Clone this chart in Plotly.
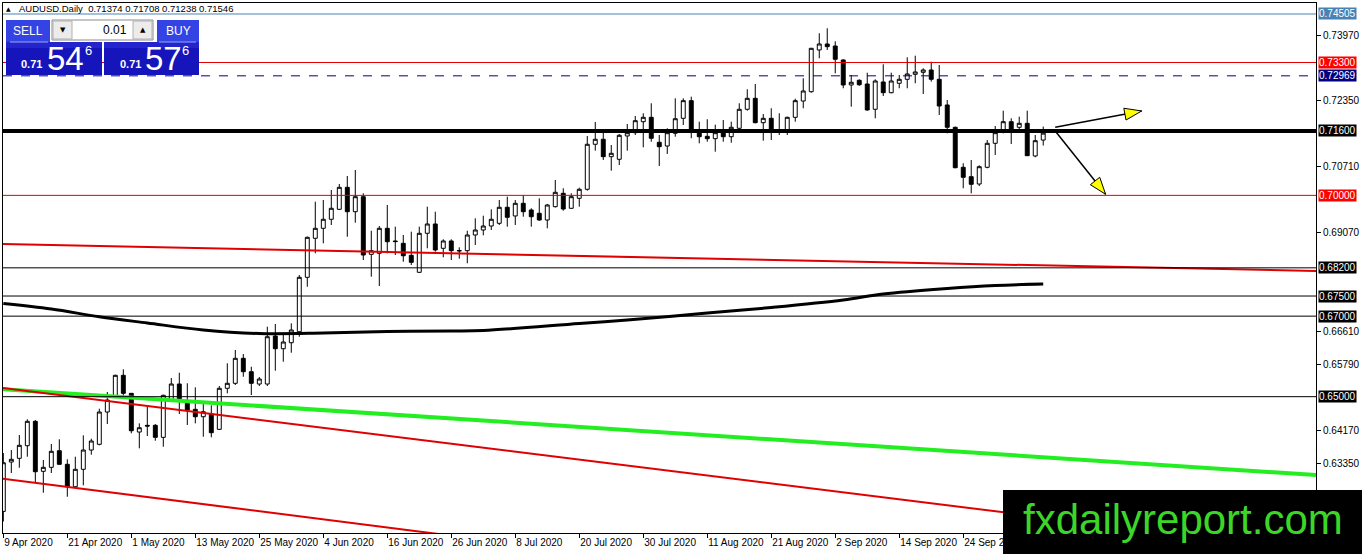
import plotly.graph_objects as go

FONT = 'Liberation Sans'
PAGE_W, PAGE_H = 1362, 554
# chart frame inside the page, in pixels
PLOT_L, PLOT_R, PLOT_T, PLOT_B = 3, 1316, 3, 533
X_RANGE = [-0.04, 164.1]
Y_RANGE = [0.61614, 0.74778]

SYMBOL = 'AUDUSD.Daily'

# daily bars, 9 Apr 2020 .. 8 Oct 2020
OPENS = [
    0.62150, 0.63377, 0.63469, 0.63782, 0.64388, 0.63146, 0.63245, 0.63658, 0.63320, 0.62763,
    0.63196, 0.63675, 0.63817, 0.64619, 0.64999, 0.65531, 0.65083, 0.64122, 0.64288, 0.64288,
    0.63990, 0.64917, 0.65314, 0.64900, 0.64686, 0.64502, 0.64569, 0.64189, 0.65208, 0.65332,
    0.65953, 0.65620, 0.65314, 0.65314, 0.66507, 0.66191, 0.66340, 0.66614, 0.67965, 0.68934,
    0.69182, 0.69406, 0.69654, 0.70200, 0.69594, 0.69967, 0.68536, 0.68561, 0.69182, 0.68867,
    0.68809, 0.68511, 0.68089, 0.69058, 0.69289, 0.68685, 0.68867, 0.68631, 0.68626, 0.69016,
    0.69140, 0.69239, 0.69306, 0.69704, 0.69488, 0.69803, 0.69637, 0.69555, 0.69388, 0.69719,
    0.70051, 0.69679, 0.69927, 0.70151, 0.71269, 0.71393, 0.70961, 0.70896, 0.71475, 0.71557,
    0.71830, 0.71939, 0.71318, 0.71226, 0.71542, 0.71914, 0.72352, 0.71582, 0.71467, 0.71408,
    0.71557, 0.71457, 0.71666, 0.72138, 0.72411, 0.71805, 0.71914, 0.71611, 0.71582, 0.71939,
    0.72344, 0.72575, 0.73611, 0.73760, 0.73710, 0.73363, 0.72742, 0.72858, 0.72766, 0.72138,
    0.72816, 0.72550, 0.72784, 0.72883, 0.73007, 0.73057, 0.73114, 0.72883, 0.72245, 0.71691,
    0.70697, 0.70464, 0.70282, 0.70697, 0.71293, 0.71624, 0.71830, 0.71691, 0.71790, 0.70978,
    0.71374,
]
HIGHS = [
    0.63600, 0.63675, 0.64048, 0.64438, 0.64420, 0.63427, 0.63824, 0.63941, 0.63444, 0.63509,
    0.64040, 0.63956, 0.64701, 0.65116, 0.65545, 0.65680, 0.65091, 0.64338, 0.64751, 0.64321,
    0.65049, 0.65463, 0.65595, 0.65332, 0.65232, 0.64835, 0.64785, 0.65265, 0.65829, 0.66159,
    0.66060, 0.65744, 0.65488, 0.66738, 0.66805, 0.66574, 0.66822, 0.68022, 0.68978, 0.69843,
    0.69885, 0.70133, 0.70282, 0.70481, 0.70630, 0.70051, 0.69122, 0.69239, 0.69761, 0.69222,
    0.69016, 0.69098, 0.69222, 0.69719, 0.69594, 0.68909, 0.68909, 0.68710, 0.69122, 0.69430,
    0.69495, 0.69654, 0.69885, 0.69967, 0.69885, 0.70009, 0.69679, 0.69927, 0.69786, 0.70382,
    0.70176, 0.70051, 0.70191, 0.71475, 0.71823, 0.71582, 0.71251, 0.71524, 0.71773, 0.71972,
    0.72039, 0.72287, 0.71500, 0.71666, 0.72411, 0.72411, 0.72451, 0.71830, 0.71890, 0.71756,
    0.71872, 0.71830, 0.72287, 0.72635, 0.72766, 0.72021, 0.72163, 0.72039, 0.71954, 0.72401,
    0.72908, 0.73661, 0.74026, 0.74150, 0.73827, 0.73380, 0.72990, 0.72883, 0.73047, 0.72883,
    0.73256, 0.73047, 0.72990, 0.73430, 0.73469, 0.73156, 0.73320, 0.73238, 0.72369, 0.71706,
    0.70797, 0.70879, 0.70747, 0.71375, 0.71723, 0.72103, 0.71914, 0.71954, 0.72103, 0.71500,
    0.71708,
]
LOWS = [
    0.61900, 0.63104, 0.63235, 0.63509, 0.62855, 0.62614, 0.63104, 0.63302, 0.62515, 0.62731,
    0.62798, 0.63558, 0.63792, 0.64321, 0.64967, 0.64999, 0.64090, 0.63717, 0.64023, 0.63906,
    0.63757, 0.64892, 0.64569, 0.64296, 0.64338, 0.64005, 0.63990, 0.64172, 0.65083, 0.65290,
    0.65496, 0.65041, 0.65265, 0.65265, 0.65645, 0.65868, 0.66092, 0.66489, 0.67731, 0.68561,
    0.68809, 0.69264, 0.69637, 0.68973, 0.69321, 0.68395, 0.67980, 0.67749, 0.68561, 0.68519,
    0.68352, 0.68270, 0.68072, 0.68685, 0.68601, 0.68462, 0.68395, 0.68427, 0.68313, 0.68767,
    0.69008, 0.69140, 0.69264, 0.69222, 0.69264, 0.69470, 0.69222, 0.69371, 0.69182, 0.69699,
    0.69619, 0.69666, 0.69719, 0.70116, 0.71110, 0.70879, 0.70613, 0.70754, 0.71110, 0.71500,
    0.71194, 0.71333, 0.70730, 0.71028, 0.71457, 0.71748, 0.71418, 0.71293, 0.71333, 0.71085,
    0.71333, 0.71308, 0.71624, 0.72103, 0.71790, 0.71358, 0.71375, 0.71500, 0.71500, 0.71830,
    0.72163, 0.72550, 0.73405, 0.73611, 0.73032, 0.72660, 0.72203, 0.72717, 0.72103, 0.71914,
    0.72468, 0.72535, 0.72660, 0.72660, 0.72784, 0.72518, 0.72824, 0.71996, 0.71542, 0.70672,
    0.70176, 0.70051, 0.70233, 0.70672, 0.71003, 0.71542, 0.71276, 0.71624, 0.70978, 0.70946,
    0.71238,
]
CLOSES = [
    0.63359, 0.63444, 0.63792, 0.64388, 0.63136, 0.63245, 0.63643, 0.63320, 0.62763, 0.63196,
    0.63675, 0.63899, 0.64619, 0.64917, 0.65531, 0.65083, 0.64154, 0.64229, 0.64270, 0.63990,
    0.65034, 0.65314, 0.64900, 0.64669, 0.64502, 0.64626, 0.64105, 0.65208, 0.65332, 0.65953,
    0.65620, 0.65332, 0.65439, 0.66489, 0.66191, 0.66358, 0.66656, 0.67965, 0.68958, 0.69182,
    0.69406, 0.69679, 0.70200, 0.69594, 0.69967, 0.68519, 0.68626, 0.69182, 0.68849, 0.68852,
    0.68501, 0.68337, 0.69058, 0.69289, 0.68643, 0.68867, 0.68626, 0.68621, 0.69016, 0.69140,
    0.69239, 0.69406, 0.69704, 0.69455, 0.69803, 0.69594, 0.69470, 0.69388, 0.69761, 0.70076,
    0.69661, 0.69967, 0.70151, 0.71269, 0.71393, 0.70961, 0.71045, 0.71492, 0.71557, 0.71855,
    0.71939, 0.71418, 0.71209, 0.71557, 0.71904, 0.72352, 0.71582, 0.71457, 0.71408, 0.71557,
    0.71457, 0.71691, 0.72138, 0.72411, 0.71805, 0.71914, 0.71611, 0.71624, 0.71939, 0.72352,
    0.72593, 0.73653, 0.73760, 0.73693, 0.73380, 0.72742, 0.72809, 0.72749, 0.72121, 0.72841,
    0.72550, 0.72841, 0.72883, 0.73015, 0.73065, 0.73114, 0.72883, 0.72220, 0.71691, 0.70687,
    0.70449, 0.70275, 0.70712, 0.71293, 0.71557, 0.71830, 0.71582, 0.71790, 0.70985, 0.71358,
    0.71546,
]

BID = 0.71546
ASK = 0.71576
LOT = '0.01'

DATE_BARS = [0, 8, 16, 24, 32, 40, 48, 56, 64, 72, 80, 88, 96, 104, 112, 120]
DATE_LABELS = ['9 Apr 2020', '21 Apr 2020', '1 May 2020', '13 May 2020', '25 May 2020',
               '4 Jun 2020', '16 Jun 2020', '26 Jun 2020', '8 Jul 2020', '20 Jul 2020',
               '30 Jul 2020', '11 Aug 2020', '21 Aug 2020', '2 Sep 2020', '14 Sep 2020',
               '24 Sep 2020']
# scale ticks that are not hidden behind the level labels
PRICE_TICKS = [0.73970, 0.72350, 0.70710, 0.69070, 0.66610, 0.65790, 0.64170, 0.63350]

# 200 day moving average
MA_BARS = [0, 6, 12, 18, 25, 32, 40, 48, 56, 60, 72, 78, 88, 96, 105, 110, 118, 124, 130]
MA_VALUES = [0.67314, 0.67177, 0.66986, 0.66830, 0.66656, 0.66569, 0.66581, 0.66619,
             0.66631, 0.66643, 0.66817, 0.66904, 0.67078, 0.67215, 0.67401, 0.67550,
             0.67687, 0.67761, 0.67798]

# horizontal levels
LEVELS = [0.74505, 0.73300, 0.72969, 0.71600, 0.70000, 0.68200, 0.67500, 0.67000, 0.65000]
LEVEL_LINE = ['#4682b4', '#e00000', '#000080', 'black', '#e00000', 'black', 'black', 'black', 'black']
LEVEL_BOX = ['#4682b4', '#ff0000', '#000080', 'black', '#ff0000', 'black', 'black', 'black', 'black']
LEVEL_WIDTH = [1, 1, 1, 4, 1, 1, 1, 1, 1]
LEVEL_DASH = ['solid', 'solid', 'dash', 'solid', 'solid', 'solid', 'solid', 'solid', 'solid']

# trend lines (bar index, price)
TREND_BARS = [-0.41, 164.1]
RED_TREND_UPPER = [0.68792, 0.68121]
RED_TREND_MID = [0.65223, 0.61166]
RED_TREND_LOW = [0.62972, 0.58821]
GREEN_TREND = [0.65190, 0.63054]

# scenario arrows
ARROW_FROM = [(131.5, 0.71691), (131.5, 0.71599)]
ARROW_TO = [(142.3, 0.72096), (137.8, 0.70027)]


def px_x(px):
    return (px - PLOT_L) / (PLOT_R - PLOT_L)


def px_y(py):
    return (PLOT_B - py) / (PLOT_B - PLOT_T)


KX = (PLOT_R - PLOT_L) / (X_RANGE[1] - X_RANGE[0])
KY = (PLOT_B - PLOT_T) / (Y_RANGE[1] - Y_RANGE[0])


def arrow_head(start, tip, length=17, half=6):
    # triangle in screen pixels, mapped back to data units
    sx, sy = start[0] * KX, -start[1] * KY
    tx, ty = tip[0] * KX, -tip[1] * KY
    dx, dy = tx - sx, ty - sy
    n = (dx * dx + dy * dy) ** 0.5
    dx, dy = dx / n, dy / n
    bx, by = tx - dx * length, ty - dy * length
    pts = [(tx, ty), (bx - dy * half, by + dx * half), (bx + dy * half, by - dx * half), (tx, ty)]
    return [p[0] / KX for p in pts], [-p[1] / KY for p in pts]


fig = go.Figure()

fig.add_trace(go.Candlestick(
    x=list(range(len(OPENS))), open=OPENS, high=HIGHS, low=LOWS, close=CLOSES,
    increasing=dict(fillcolor='white', line=dict(color='black', width=1)),
    decreasing=dict(fillcolor='black', line=dict(color='black', width=1)),
    whiskerwidth=0, showlegend=False, hoverinfo='skip'))

for vals, col, w in [(RED_TREND_UPPER, '#e00000', 2), (GREEN_TREND, '#22ee22', 4),
                     (RED_TREND_MID, '#e00000', 2), (RED_TREND_LOW, '#e00000', 2)]:
    fig.add_trace(go.Scatter(x=TREND_BARS, y=vals, mode='lines', line=dict(color=col, width=w),
                             showlegend=False, hoverinfo='skip'))

fig.add_trace(go.Scatter(x=MA_BARS, y=MA_VALUES, mode='lines', line=dict(color='black', width=3, shape='spline'),
                         showlegend=False, hoverinfo='skip'))

for a, b in zip(ARROW_FROM, ARROW_TO):
    fig.add_trace(go.Scatter(x=[a[0], b[0]], y=[a[1], b[1]], mode='lines',
                             line=dict(color='black', width=1.5), showlegend=False, hoverinfo='skip'))
    hx, hy = arrow_head(a, b)
    fig.add_trace(go.Scatter(x=hx, y=hy, mode='lines', fill='toself', fillcolor='#ffff00',
                             line=dict(color='black', width=1), showlegend=False, hoverinfo='skip'))

shapes = []
annotations = []

for lvl, lc, bc, lw, ld in zip(LEVELS, LEVEL_LINE, LEVEL_BOX, LEVEL_WIDTH, LEVEL_DASH):
    shapes.append(dict(type='line', xref='paper', yref='y', x0=0, x1=1, y0=lvl, y1=lvl,
                       line=dict(color=lc, width=lw, dash=ld)))
    annotations.append(dict(xref='paper', yref='y', x=1, y=lvl, xanchor='left', yanchor='middle',
                            xshift=2, text=f'{lvl:.5f}', showarrow=False, bgcolor=bc, borderpad=0,
                            font=dict(family=FONT, size=10, color='white')))


def rect(x0, y0, x1, y1, fill, line=None):
    shapes.append(dict(type='rect', xref='paper', yref='paper', x0=px_x(x0), x1=px_x(x1),
                       y0=px_y(y1), y1=px_y(y0), fillcolor=fill,
                       line=dict(width=1 if line else 0, color=line or fill)))


def label(x, y, text, size, color='white', anchor='center', family=FONT):
    annotations.append(dict(xref='paper', yref='paper', x=px_x(x), y=px_y(y), text=text,
                            xanchor=anchor, yanchor='middle', showarrow=False,
                            font=dict(family=family, size=size, color=color)))


# one-click trading panel
rect(6, 20, 50, 42, '#3343e4')
rect(157, 20, 199, 42, '#3343e4')
rect(6, 42, 102, 75, '#1515bb')
rect(104, 42, 199, 75, '#1515bb')
rect(6, 42, 102, 48, '#2424cc')
rect(104, 42, 199, 48, '#2424cc')
shapes.append(dict(type='line', xref='paper', yref='paper', x0=px_x(10), x1=px_x(48), y0=px_y(42), y1=px_y(42),
                   line=dict(color='#9aa4f4', width=1)))
shapes.append(dict(type='line', xref='paper', yref='paper', x0=px_x(159), x1=px_x(196), y0=px_y(42), y1=px_y(42),
                   line=dict(color='#9aa4f4', width=1)))
rect(52, 20, 153, 40, 'white', '#8c8c8c')
rect(53, 21, 72, 39, '#ececec', '#b0b0b0')
rect(133, 21, 152, 39, '#ececec', '#b0b0b0')
label(62.5, 30, '▼', 7, 'black', family='DejaVu Sans')
label(142.5, 30, '▲', 7, 'black', family='DejaVu Sans')
label(129, 30, LOT, 12, 'black', anchor='right')
label(28, 31, 'SELL', 12)
label(178, 31, 'BUY', 12)
for price, x_small, x_big, x_sup in [(BID, 31, 65, 88), (ASK, 130, 163, 185)]:
    s = f'{price:.5f}'
    label(x_small, 64, f'<b>{s[:4]}</b>', 11)
    label(x_big, 59, s[4:6], 33)
    label(x_sup, 51, s[6], 13)

# chart header
label(8, 9, '▲', 6, 'black', family='DejaVu Sans')
label(17, 9, f'{SYMBOL}  {OPENS[-1]:.5f} {HIGHS[-1]:.5f} {LOWS[-1]:.5f} {CLOSES[-1]:.5f}',
      9.5, 'black', anchor='left')

# watermark
rect(1003, 490, PAGE_W + 2, PAGE_H + 2, 'black')
label(1183, 519, 'fxdailyreport.com', 42, '#3cd628')

fig.update_layout(
    width=PAGE_W, height=PAGE_H,
    margin=dict(l=PLOT_L, r=PAGE_W - PLOT_R, t=PLOT_T, b=PAGE_H - PLOT_B, pad=0, autoexpand=False),
    paper_bgcolor='white', plot_bgcolor='white',
    showlegend=False,
    shapes=shapes, annotations=annotations,
    xaxis=dict(range=X_RANGE, showgrid=False, zeroline=False, showline=True, mirror=True,
               linecolor='black', linewidth=1, tickvals=DATE_BARS, ticktext=DATE_LABELS,
               ticks='outside', ticklen=4, tickcolor='black', ticklabelposition='outside right',
               tickangle=0, automargin=False,
               tickfont=dict(family=FONT, size=10, color='black'), rangeslider=dict(visible=False)),
    yaxis=dict(range=Y_RANGE, side='right', showgrid=False, zeroline=False, showline=True, mirror=True,
               linecolor='black', linewidth=1, tickvals=PRICE_TICKS, automargin=False,
               ticktext=[f'{t:.5f}' for t in PRICE_TICKS], ticks='outside', ticklen=4,
               tickcolor='black', tickfont=dict(family=FONT, size=10, color='black')),
)

# the page body has a default 8px margin; the chart fills the window edge to edge
fig.write_html('out.html', config={'displayModeBar': False},
               post_script="document.body.style.margin='0px';")
